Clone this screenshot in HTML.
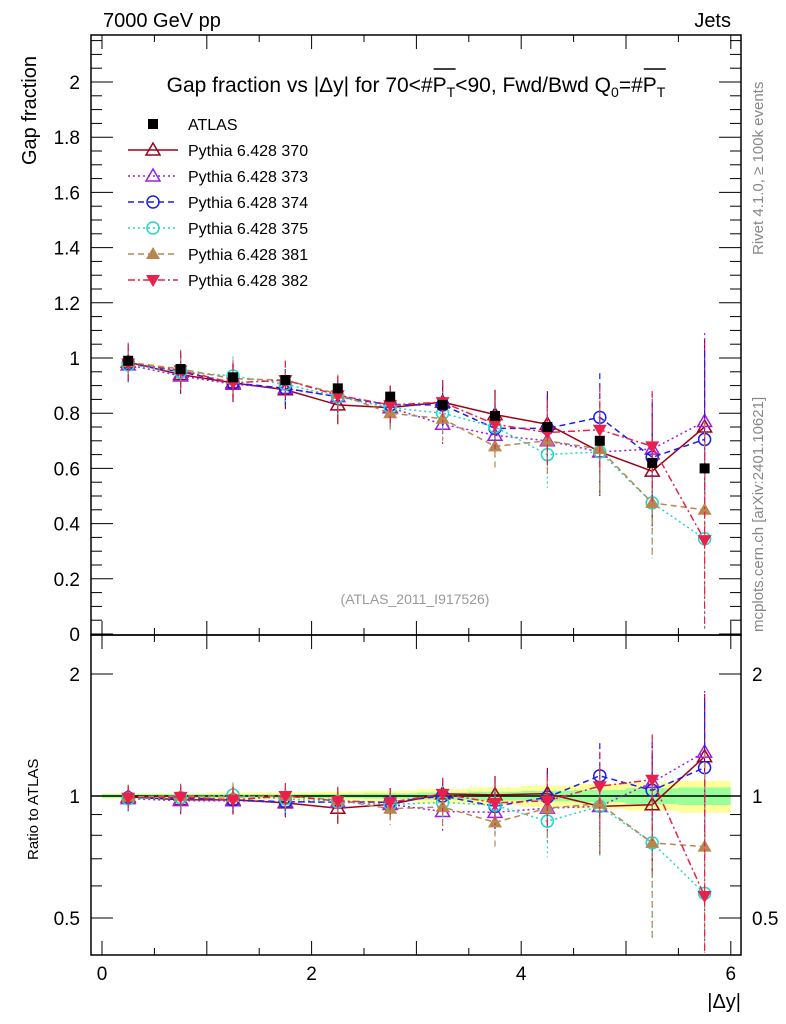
<!DOCTYPE html>
<html><head><meta charset="utf-8"><style>
body{margin:0;background:#fff;}
svg{display:block;font-family:"Liberation Sans",Arial,sans-serif;}
</style></head><body>
<svg id="chart" width="786" height="1024" viewBox="0 0 786 1024" xmlns="http://www.w3.org/2000/svg">
<rect x="0" y="0" width="786" height="1024" fill="#fff"/>
<g id="bands"></g>
<g id="axes"></g>
<g id="series"></g>
<text x="103" y="27" font-size="20">7000 GeV pp</text>
<text x="731" y="27" font-size="20" text-anchor="end">Jets</text>
<text id="title" x="416" y="92" font-size="21" text-anchor="middle">Gap fraction vs |Δy| for 70&lt;#<tspan id="p1">P<tspan font-size="14" dy="5">T</tspan></tspan><tspan dy="-5">&lt;90, Fwd/Bwd Q</tspan><tspan font-size="14" dy="5">0</tspan><tspan dy="-5">=#</tspan><tspan id="p2">P<tspan font-size="14" dy="5">T</tspan></tspan></text>
<line id="ol1" x1="0" y1="69" x2="0" y2="69" stroke="#000" stroke-width="1.5"/>
<line id="ol2" x1="0" y1="69" x2="0" y2="69" stroke="#000" stroke-width="1.5"/>
<text transform="translate(36,165) rotate(-90)" font-size="20">Gap fraction</text>
<text transform="translate(38,860) rotate(-90)" font-size="15">Ratio to ATLAS</text>
<text x="741" y="1008" font-size="20" text-anchor="end">|Δy|</text>
<text x="415" y="604" font-size="14" fill="#999" text-anchor="middle">(ATLAS_2011_I917526)</text>
<text transform="translate(763,255) rotate(-90)" font-size="15" fill="#888">Rivet 4.1.0, ≥ 100k events</text>
<text transform="translate(763,632) rotate(-90)" font-size="15" fill="#888">mcplots.cern.ch [arXiv:2401.10621]</text>
<g id="legend"></g>
</svg>
<script>
const xCenters=[0.25,0.75,1.25,1.75,2.25,2.75,3.25,3.75,4.25,4.75,5.25,5.75];
const atlasVals=[0.99,0.96,0.93,0.92,0.89,0.86,0.83,0.79,0.75,0.70,0.62,0.60];
const statBand=[0.01,0.01,0.01,0.01,0.012,0.015,0.02,0.025,0.03,0.035,0.045,0.05];
const totBand=[0.015,0.015,0.02,0.02,0.025,0.03,0.04,0.05,0.06,0.07,0.08,0.09];
const v370=[0.985,0.94,0.91,0.885,0.83,0.82,0.84,0.795,0.76,0.66,0.59,0.75];
const v373=[0.975,0.935,0.905,0.89,0.86,0.82,0.76,0.72,0.70,0.66,0.67,0.77];
const v374=[0.98,0.95,0.91,0.89,0.86,0.83,0.83,0.745,0.745,0.785,0.64,0.705];
const v375=[0.975,0.95,0.935,0.905,0.86,0.82,0.80,0.75,0.65,0.66,0.475,0.345];
const v381=[0.985,0.96,0.925,0.92,0.87,0.80,0.78,0.68,0.70,0.67,0.475,0.45];
const v382=[0.98,0.955,0.91,0.92,0.865,0.83,0.84,0.76,0.73,0.74,0.68,0.34];
const mcErr=[0.07,0.07,0.07,0.07,0.07,0.07,0.08,0.09,0.12,0.16,0.2,0.32];
const xTickLabels=["0","2","4","6"];
const yTickLabels=["0","0.2","0.4","0.6","0.8","1","1.2","1.4","1.6","1.8","2"];
const rTickLabels=["0.5","1","2"];

const NS="http://www.w3.org/2000/svg";
const L=91,R=741,T=35,M=635,B=955;
const X=v=>102+v*104.8;
const Y=v=>634-v*276;
const RY=r=>796-122*Math.log2(r);
function mk(tag,at,parent){const e=document.createElementNS(NS,tag);for(const k in at)e.setAttribute(k,at[k]);parent.appendChild(e);return e;}
const axes=document.getElementById('axes'),series=document.getElementById('series'),bands=document.getElementById('bands'),legend=document.getElementById('legend');

// title overlines
[['p1','ol1'],['p2','ol2']].forEach(([p,o])=>{try{const b=document.getElementById(p).getBBox();const l=document.getElementById(o);
 l.setAttribute('x1',b.x+1);l.setAttribute('x2',b.x+b.width);}catch(e){}});

// bands
xCenters.forEach((x,i)=>{
  const x0=X(x-0.25),w=104.8*0.5;
  const ry=mk('rect',{x:x0,y:RY(1+totBand[i]),width:w,height:RY(1-totBand[i])-RY(1+totBand[i]),fill:'#ffff99'},bands);
  
  
  const rg=mk('rect',{x:x0,y:RY(1+statBand[i]),width:w,height:RY(1-statBand[i])-RY(1+statBand[i]),fill:'#99ff99'},bands);
  
  
});

[[T,M],[M,B]].forEach(([a,b])=>{const f=mk('rect',{x:L,y:a,width:R-L,height:b-a,fill:'none',stroke:'#000','stroke-width':1.5},axes);

});
for(let v=0;v<=6.01;v+=0.5){const maj=Math.abs(v-Math.round(v))<0.01;const len=maj?14:7;const px=X(v);
 [[M,-1],[T,1],[B,-1]].forEach(([yy,d])=>{const t=mk('line',{x1:px,y1:yy,x2:px,y2:yy+d*len,stroke:'#000'},axes);
 
 });
 mk('line',{x1:px,y1:M,x2:px,y2:M+len,stroke:'#000'},axes);}
xTickLabels.forEach(s=>{const t=mk('text',{x:X(+s),y:980,'font-size':19,'text-anchor':'middle'},axes);t.textContent=s;

});
for(let k=0;k<=43;k++){const v=k*0.05;const py=Y(v);if(py<T)break;const maj=k%4==0;const len=maj?22:11;
 mk('line',{x1:L,y1:py,x2:L+len,y2:py,stroke:'#000'},axes);mk('line',{x1:R,y1:py,x2:R-len,y2:py,stroke:'#000'},axes);}
yTickLabels.forEach(s=>{const t=mk('text',{x:80,y:Y(+s)+7,'font-size':19,'text-anchor':'end'},axes);t.textContent=s;

});
[0.5,0.6,0.7,0.8,0.9,1,2].forEach(r=>{const py=RY(r);const maj=(r==0.5||r==1||r==2);const len=maj?22:11;
 mk('line',{x1:L,y1:py,x2:L+len,y2:py,stroke:'#000'},axes);mk('line',{x1:R,y1:py,x2:R-len,y2:py,stroke:'#000'},axes);});
rTickLabels.forEach(s=>{[[80,'end'],[752,'start']].forEach(([xx,a])=>{const t=mk('text',{x:xx,y:RY(+s)+7,'font-size':19,'text-anchor':a},axes);t.textContent=s;

});});
const one=mk('line',{x1:L,y1:RY(1),x2:R,y2:RY(1),stroke:'#000','stroke-width':1.5},axes);



function marker(g,kind,col,cx,cy){
 if(kind=='sq')return mk('rect',{x:cx-5,y:cy-5,width:10,height:10,fill:'#000'},g);
 if(kind=='otri')return mk('polygon',{points:`${cx},${cy-7} ${cx-7},${cy+5} ${cx+7},${cy+5}`,fill:'none',stroke:col,'stroke-width':1.5},g);
 if(kind=='ftri')return mk('polygon',{points:`${cx},${cy-7} ${cx-7},${cy+5} ${cx+7},${cy+5}`,fill:col},g);
 if(kind=='dtri')return mk('polygon',{points:`${cx},${cy+7} ${cx-7},${cy-5} ${cx+7},${cy-5}`,fill:col},g);
 return mk('circle',{cx,cy,r:6,fill:'none',stroke:col,'stroke-width':1.5},g);
}
const defs=[
 {n:'370',v:v370,c:'#a0001c',d:'',k:'otri'},
 {n:'373',v:v373,c:'#9a1ee6',d:'2,3',k:'otri'},
 {n:'374',v:v374,c:'#1e1ee6',d:'6,4',k:'ocir'},
 {n:'375',v:v375,c:'#20d8c8',d:'2,3',k:'ocir'},
 {n:'381',v:v381,c:'#b8864e',d:'6,4',k:'ftri'},
 {n:'382',v:v382,c:'#e8204c',d:'7,3,2,3',k:'dtri'}];
defs.forEach(s=>{
 const g=mk('g',{},series);
 
 
 [[Y,i=>s.v[i]],[RY,i=>s.v[i]/atlasVals[i]]].forEach(([fy,val],p)=>{
  const pts=xCenters.map((x,i)=>X(x)+','+fy(val(i))).join(' ');
  mk('polyline',{points:pts,fill:'none',stroke:s.c,'stroke-width':1.5,'stroke-dasharray':s.d},g);
  xCenters.forEach((x,i)=>{const v=val(i);const e=p==0?mcErr[i]:mcErr[i]/atlasVals[i];
   const lo=Math.max(v-e,p==0?0:0.41);
   mk('line',{x1:X(x),y1:fy(v+e),x2:X(x),y2:fy(lo),stroke:s.c,'stroke-width':1.2,'stroke-dasharray':s.d},g);
   const m=marker(g,s.k,s.c,X(x),fy(v));
   
   });
 });
});
const ga=mk('g',{},series);


xCenters.forEach((x,i)=>{const m=marker(ga,'sq','#000',X(x),Y(atlasVals[i]));
 
 });
const lg=[{n:'ATLAS',k:'sq',c:'#000',d:''}].concat(defs.map(s=>({n:'Pythia 6.428 '+s.n,k:s.k,c:s.c,d:s.d})));
lg.forEach((e,i)=>{const y=124+i*26;const g=mk('g',{},legend);
 
 
 if(i>0)mk('line',{x1:128,y1:y,x2:178,y2:y,stroke:e.c,'stroke-width':1.5,'stroke-dasharray':e.d},g);
 marker(g,e.k,e.c,153,y);
 const t=mk('text',{x:188,y:y+6,'font-size':16},g);t.textContent=e.n;});
</script>
</body></html>
